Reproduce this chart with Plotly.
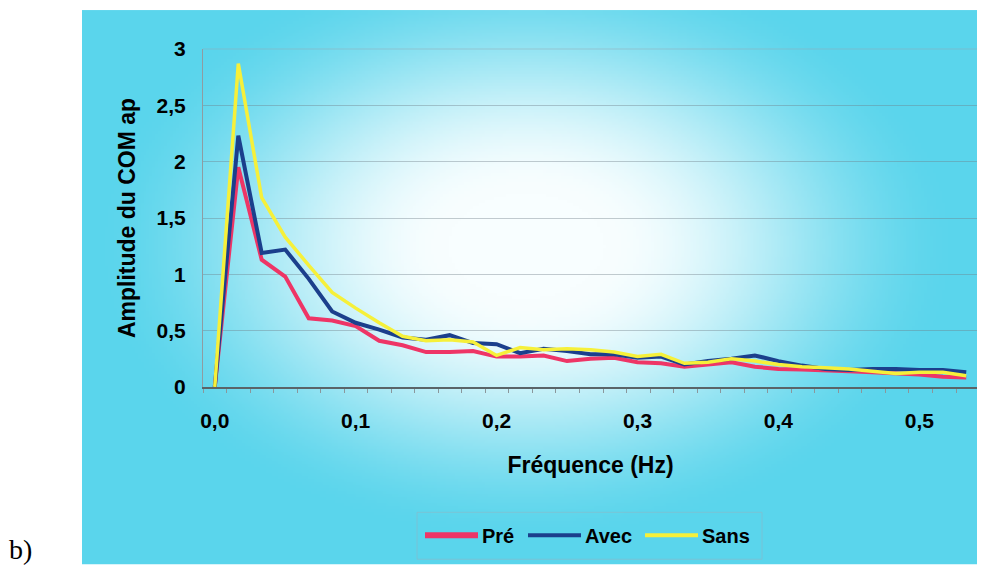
import base64, struct, zlib
import numpy as np
import plotly.graph_objects as go

# ---------------- data ----------------
freq_hz = [0.0, 0.0167, 0.0333, 0.05, 0.0667, 0.0833, 0.1, 0.1167, 0.1333, 0.15,
           0.1667, 0.1833, 0.2, 0.2167, 0.2333, 0.25, 0.2667, 0.2833, 0.3, 0.3167,
           0.3333, 0.35, 0.3667, 0.3833, 0.4, 0.4167, 0.4333, 0.45, 0.4667, 0.4833,
           0.5, 0.5167, 0.5333]

pre = [0.0, 1.95, 1.13, 0.98, 0.61, 0.59, 0.54, 0.41, 0.37, 0.31,
       0.31, 0.32, 0.27, 0.27, 0.28, 0.23, 0.25, 0.26, 0.22, 0.21,
       0.18, 0.20, 0.22, 0.18, 0.16, 0.155, 0.15, 0.14, 0.13, 0.12,
       0.11, 0.09, 0.085]

avec = [0.0, 2.23, 1.19, 1.22, 0.96, 0.67, 0.57, 0.51, 0.44, 0.42,
        0.46, 0.39, 0.38, 0.30, 0.34, 0.32, 0.29, 0.29, 0.26, 0.27,
        0.20, 0.23, 0.25, 0.28, 0.23, 0.19, 0.16, 0.15, 0.16, 0.16,
        0.15, 0.15, 0.13]

sans = [0.0, 2.87, 1.68, 1.33, 1.08, 0.84, 0.70, 0.57, 0.45, 0.41,
        0.42, 0.40, 0.28, 0.35, 0.33, 0.34, 0.33, 0.31, 0.27, 0.29,
        0.21, 0.22, 0.25, 0.23, 0.20, 0.18, 0.17, 0.16, 0.14, 0.12,
        0.13, 0.13, 0.10]

series_names = ["Pré", "Avec", "Sans"]
x_tick_vals = [0.0, 0.1, 0.2, 0.3, 0.4, 0.5]
y_tick_vals = [0, 0.5, 1, 1.5, 2, 2.5, 3]

# ---------------- styling ----------------
colors = ["#ee3566", "#1b3f8c", "#f6f03a"]
widths = [4, 4, 3.5]
legend_widths = [6, 4, 4]
FONT = "Liberation Sans, Arial, sans-serif"

OFF = 8                      # browser body margin
W, H = 985 - OFF, 567 - OFF
# plot-area box in page pixels
PL, PR, PT, PB = 203, 978, 49, 387.5
pw, ph = PR - PL, PB - PT


def fx(px):  # page x -> paper x
    return (px - PL) / pw


def fy(py):  # page y -> paper y
    return (PB - py) / ph


def png_uri(arr):
    h, w, _ = arr.shape
    raw = b"".join(b"\x00" + arr[r].tobytes() for r in range(h))

    def chunk(t, d):
        return struct.pack(">I", len(d)) + t + d + struct.pack(">I", zlib.crc32(t + d) & 0xffffffff)

    png = (b"\x89PNG\r\n\x1a\n"
           + chunk(b"IHDR", struct.pack(">IIBBBBB", w, h, 8, 2, 0, 0, 0))
           + chunk(b"IDAT", zlib.compress(raw, 9))
           + chunk(b"IEND", b""))
    return "data:image/png;base64," + base64.b64encode(png).decode()


# cyan panel in page pixels, with a radial light centre
PX0, PX1, PY0, PY1 = 82, 985, 10, 565
gw, gh = (PX1 - PX0) // 3, (PY1 - PY0) // 3
yy, xx = np.mgrid[0:gh, 0:gw].astype(float)
cx, cy = (525 - PX0) / 3, (245 - PY0) / 3
rx, ry = 440 / 3, 300 / 3
t = np.sqrt(((xx - cx) / rx) ** 2 + ((yy - cy) / ry) ** 2)
s = np.clip((t - 0.18) / 0.82, 0, 1)
s = s * s * (3 - 2 * s)
edge = np.array([90, 213, 236], float)
centre = np.array([248, 254, 255], float)
img = (centre[None, None, :] * (1 - s[..., None]) + edge[None, None, :] * s[..., None]).astype(np.uint8)
grad_uri = png_uri(img)

fig = go.Figure()
for name, ys, c, w in zip(series_names, [pre, avec, sans], colors, widths):
    fig.add_trace(go.Scatter(x=freq_hz, y=ys, mode="lines", name=name,
                             line=dict(color=c, width=w), showlegend=False))

step = freq_hz[1] - freq_hz[0]
xr = [freq_hz[0] - step / 2, freq_hz[-1] + step / 2]
minor_vals = [xr[0] + k * step for k in range(len(freq_hz) + 1)]

annotations = [dict(text="b)", xref="paper", yref="paper",
                    x=fx(7), y=fy(550), xanchor="left", yanchor="middle",
                    showarrow=False,
                    font=dict(size=28, family="Liberation Serif, serif", color="black"))]
shapes = [
    dict(type="line", xref="paper", yref="paper", x0=0, x1=1, y0=1, y1=1,
         line=dict(color="rgba(150,170,180,0.5)", width=1)),
    dict(type="line", xref="paper", yref="paper", x0=1, x1=1, y0=0, y1=1,
         line=dict(color="rgba(150,170,180,0.5)", width=1)),
    # legend frame
    dict(type="rect", xref="paper", yref="paper", x0=fx(417), x1=fx(762), y0=fy(560), y1=fy(513),
         line=dict(color="rgba(140,185,200,0.6)", width=1)),
]
# custom legend (long line samples like the original)
leg_line_x = [425, 528, 645]
leg_line_len = 53
leg_y = 536
for name, c, lw, lx in zip(series_names, colors, legend_widths, leg_line_x):
    shapes.append(dict(type="line", xref="paper", yref="paper",
                       x0=fx(lx), x1=fx(lx + leg_line_len), y0=fy(leg_y), y1=fy(leg_y),
                       line=dict(color=c, width=lw)))
    annotations.append(dict(text=name, xref="paper", yref="paper",
                            x=fx(lx + leg_line_len + 2), y=fy(leg_y + 1),
                            xanchor="left", yanchor="middle", showarrow=False,
                            font=dict(size=20, family=FONT, color="black", weight="bold")))

fig.update_layout(
    width=W, height=H, autosize=False,
    margin=dict(l=PL - OFF, r=985 - PR, t=PT - OFF, b=567 - PB, pad=0),
    paper_bgcolor="white", plot_bgcolor="rgba(0,0,0,0)",
    separators=", ",
    font=dict(family=FONT, color="black"),
    images=[dict(source=grad_uri, xref="paper", yref="paper",
                 x=fx(PX0), y=fy(PY0),
                 sizex=(PX1 - PX0) / pw, sizey=(PY1 - PY0) / ph,
                 sizing="stretch", xanchor="left", yanchor="top", layer="below")],
    xaxis=dict(range=xr, tickvals=x_tick_vals, tickformat=".1f",
               tickfont=dict(size=21, family=FONT, weight="bold"),
               ticks="", ticklabelstandoff=14,
               showgrid=False, zeroline=False,
               showline=True, linecolor="#5a6468", linewidth=2,
               minor=dict(tickvals=minor_vals, ticks="outside", ticklen=4,
                          tickcolor="#8a979c", tickwidth=1),
               title=dict(text="Fréquence (Hz)", standoff=26,
                          font=dict(size=23, family=FONT, weight="bold"))),
    yaxis=dict(range=[0, 3], tickvals=y_tick_vals,
               tickfont=dict(size=21, family=FONT, weight="bold"),
               ticks="", ticklabelstandoff=12,
               showgrid=True, gridcolor="rgba(110,125,135,0.4)", gridwidth=1,
               zeroline=False, showline=True, linecolor="#8e9ca2", linewidth=1,
               title=dict(text="Amplitude du COM ap", standoff=14,
                          font=dict(size=23, family=FONT, weight="bold"))),
    showlegend=False,
    annotations=annotations,
    shapes=shapes,
)

fig.write_html("out.html")
